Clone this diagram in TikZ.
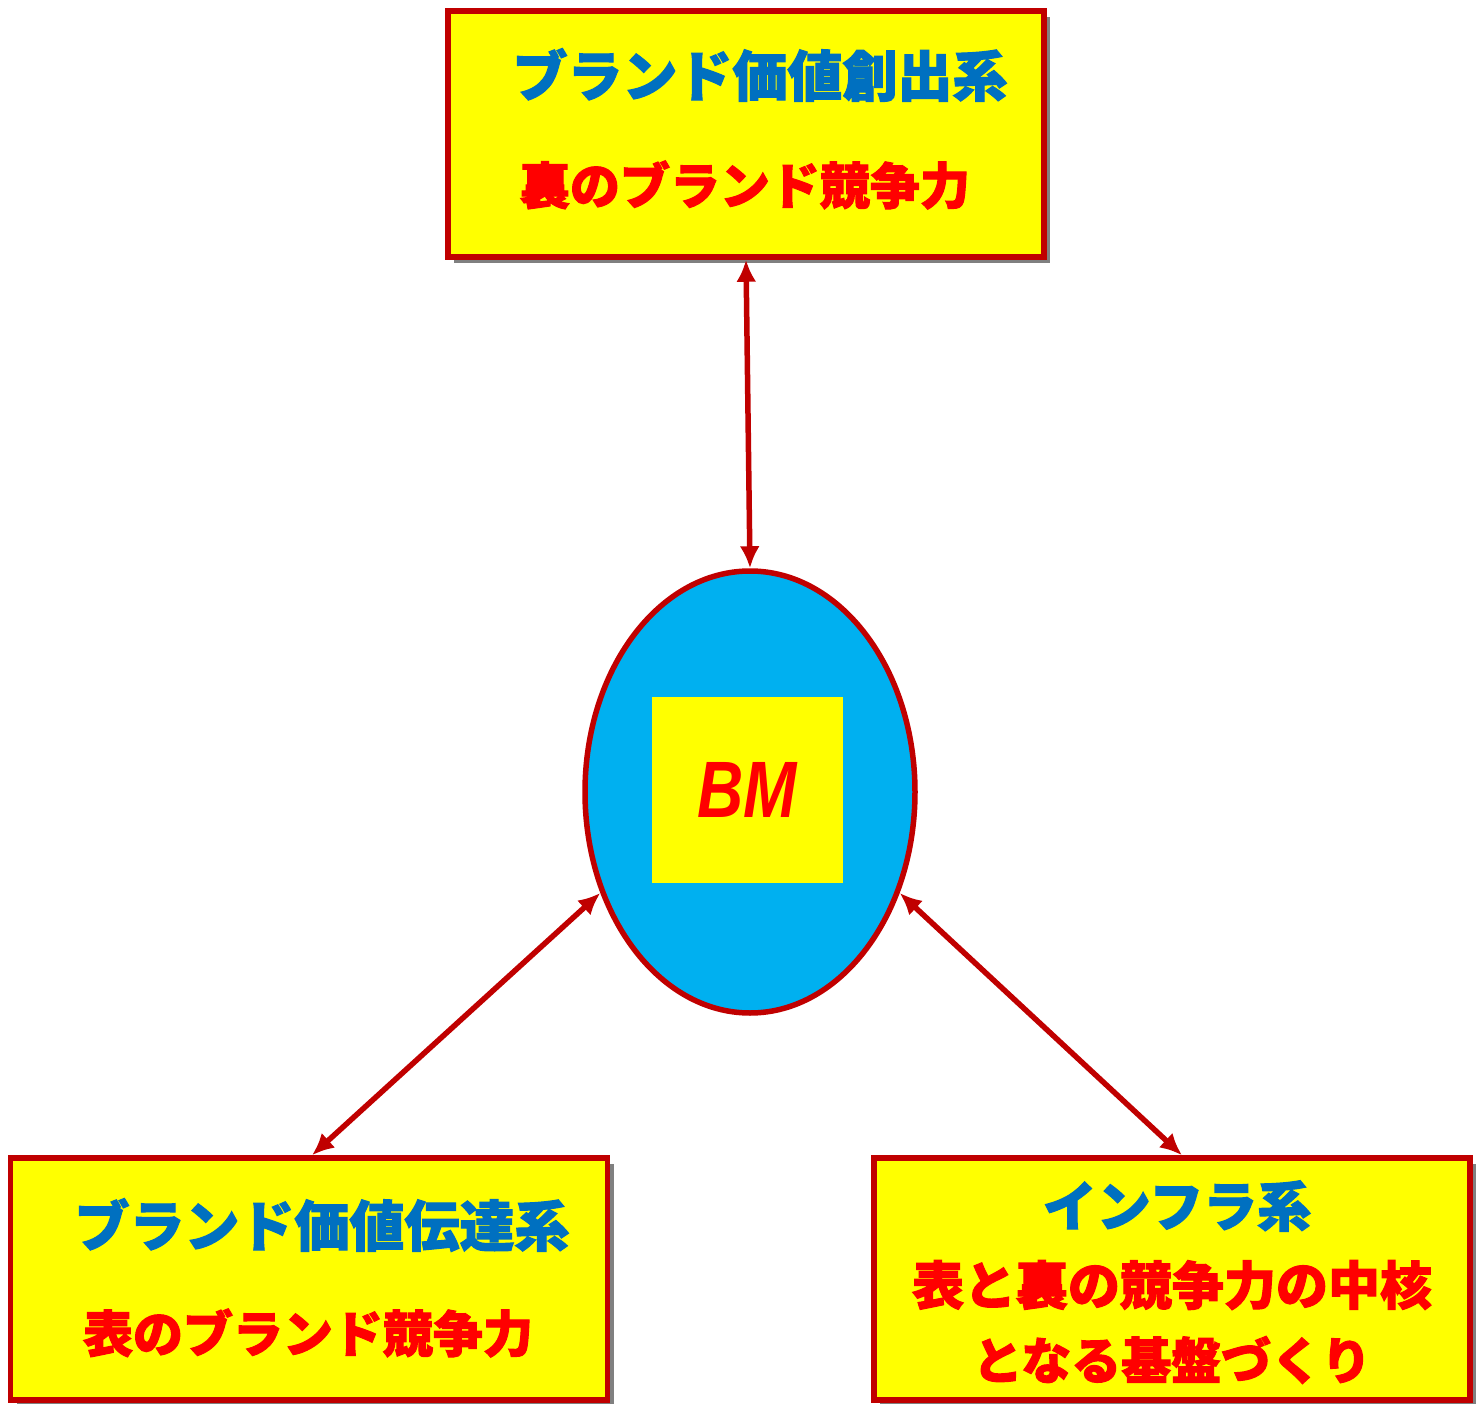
\documentclass[tikz,border=0pt]{standalone}
\usepackage{fontspec}
\setsansfont{Liberation Sans}
\newfontfamily\jpfont{Noto Sans CJK JP}[BoldFont={Noto Sans CJK JP Black},BoldFeatures={FakeBold=2}]
\usetikzlibrary{arrows.meta,shadows,positioning,shapes.geometric,calc}
\definecolor{edgered}{HTML}{C00000}
\definecolor{titleblue}{HTML}{0070C0}
\definecolor{popred}{HTML}{FF0000}
\definecolor{popyellow}{HTML}{FFFF00}
\definecolor{skyblue}{HTML}{00B0F0}
\tikzset{
  sysbox/.style={rectangle,draw=edgered,fill=popyellow,line width=5.5pt,
    drop shadow={shadow xshift=6pt,shadow yshift=-6pt,fill=gray,opacity=1}},
  titletext/.style={text=titleblue,font=\jpfont\bfseries\fontsize{55}{60}\selectfont},
  subtext/.style={text=popred,font=\jpfont\bfseries\fontsize{50}{60}\selectfont,align=center},
  link/.style={draw=edgered,line width=5.5pt,{Latex[length=22pt,width=20pt]}-{Latex[length=22pt,width=20pt]}}
}

\begin{document}
\begin{tikzpicture}[x=1pt,y=-1pt]
\useasboundingbox (0,0) rectangle (1483,1404);
% boxes
\node[sysbox,minimum width=596pt,minimum height=246pt] (create) at (746,134) {};
\node[sysbox,minimum width=597pt,minimum height=242pt] (deliver) at (309,1279) {};
\node[sysbox,minimum width=596pt,minimum height=242pt] (infra) at (1172,1279) {};
% core
\node[ellipse,draw=edgered,fill=skyblue,line width=5.5pt,minimum width=330pt,minimum height=442pt] (core) at (750,792) {};
\node[rectangle,fill=popyellow,minimum width=191pt,minimum height=186pt] (bm) at (747,790)
  {\scalebox{0.8}[1]{\sffamily\bfseries\itshape\fontsize{80}{90}\selectfont\color{popred}BM}};
% labels
\node[titletext] (createtitle) at (760,75) {ブランド価値創出系};
\node[subtext] (createsub) at (745,185) {裏のブランド競争力};
\node[titletext] (delivertitle) at (322,1225) {ブランド価値伝達系};
\node[subtext] (deliversub) at (308,1333) {表のブランド競争力};
\node[titletext,font=\jpfont\bfseries\fontsize{54}{60}\selectfont] (infratitle) at (1177,1206) {インフラ系};
\node[subtext,font=\jpfont\bfseries\fontsize{52}{60}\selectfont] (infrasub1) at (1172,1285) {表と裏の競争力の中核};
\node[subtext] (infrasub2) at (1172,1360) {となる基盤づくり};
% links
\draw[link] (create.south) -- (core.north);
\draw[link] (core.214) -- ($(deliver.north)+(3,0)$);
\draw[link] (core.326) -- ($(infra.north)+(10,0)$);
\end{tikzpicture}
\end{document}
